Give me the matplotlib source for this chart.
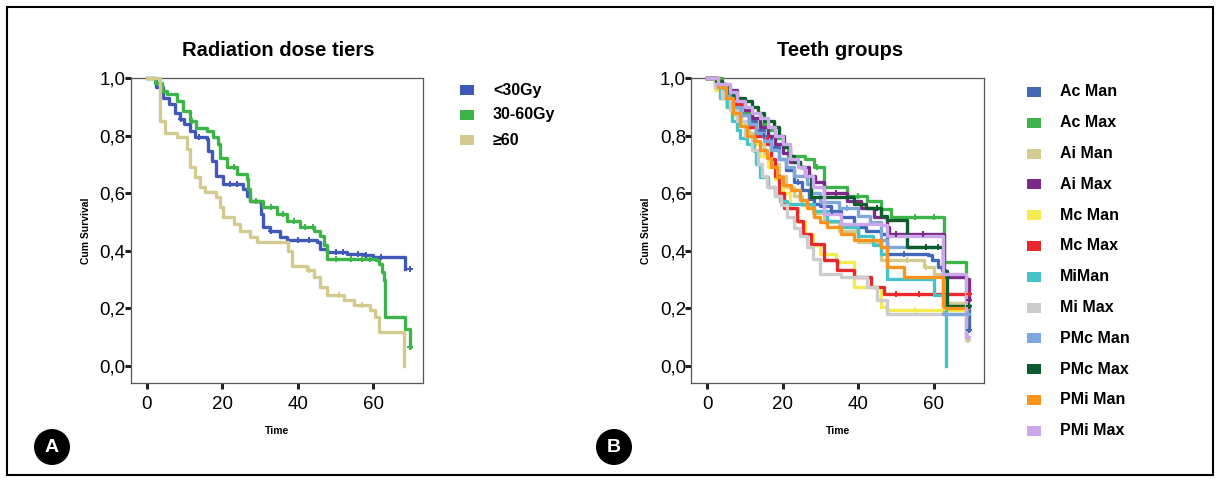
import matplotlib
matplotlib.use("Agg")
import matplotlib.pyplot as plt
import numpy as np
from matplotlib.patches import Rectangle, Ellipse

plt.rcParams['font.family'] = ['Liberation Sans', 'DejaVu Sans']

# ---- data: panel A (radiation dose tiers) ----
dose_labels = ['<30Gy', '30-60Gy', '≥60']
dose_colors = ['#4058b8', '#3cb44a', '#d3ca90']

t_lt30 = [0, 2.6, 4.4, 6, 7.5, 8.8, 10, 11.5, 12.8, 16, 16.3, 17.2, 18.5, 20.3, 25.6, 26.5, 27.4,
          30, 30.4, 30.9, 32.7, 35.3, 37.1, 45, 45.9, 47.7, 53, 57.4, 60, 68.4]
s_lt30 = [1.0, 0.97, 0.93, 0.91, 0.88, 0.857, 0.84, 0.815, 0.796, 0.788, 0.747, 0.713, 0.66, 0.632,
          0.615, 0.59, 0.574, 0.569, 0.528, 0.482, 0.47, 0.447, 0.436, 0.43, 0.407, 0.396, 0.39,
          0.384, 0.378, 0.338]
c_lt30 = [9, 14, 22, 24, 33, 40, 43, 50, 52, 56, 58, 62, 69.6]

t_30_60 = [0, 2.2, 4, 5.3, 8, 9.7, 11.5, 13.2, 15.9, 17.7, 19, 19.4, 21.2, 23.8, 26.5, 26.9, 27.4,
           30.9, 34.4, 37.1, 40.6, 44.2, 45.9, 46.8, 47.7, 60.8, 61.4, 62.3, 62.7, 63.1, 68.4, 69.6]
s_30_60 = [1.0, 0.984, 0.955, 0.943, 0.92, 0.886, 0.851, 0.828, 0.817, 0.794, 0.77, 0.724, 0.69,
           0.667, 0.65, 0.615, 0.574, 0.551, 0.528, 0.505, 0.482, 0.47, 0.453, 0.419, 0.373, 0.367,
           0.355, 0.326, 0.298, 0.171, 0.13, 0.067]
c_30_60 = [12, 23, 29, 33, 36, 39, 42, 44, 50, 54, 57, 59, 69.6]

t_ge60 = [0, 3.5, 4.9, 8, 10.6, 11.5, 12.8, 14.1, 15.5, 18.5, 19.4, 20.3, 23, 24.7, 27.4, 29.1,
          37.5, 38.4, 42.4, 44.2, 45.9, 47.7, 52.1, 54.8, 59.2, 60.5, 61.4, 68.2]
s_ge60 = [1.0, 0.85, 0.81, 0.794, 0.753, 0.69, 0.655, 0.62, 0.603, 0.586, 0.551, 0.517, 0.494,
          0.47, 0.447, 0.43, 0.401, 0.349, 0.332, 0.309, 0.275, 0.246, 0.228, 0.211, 0.194, 0.171,
          0.119, 0.0]
c_ge60 = [43, 51, 57]

dose_times = [t_lt30, t_30_60, t_ge60]
dose_surv = [s_lt30, s_30_60, s_ge60]
dose_cens = [c_lt30, c_30_60, c_ge60]

# ---- data: panel B (teeth groups) ----
teeth_labels = ['Ac Man', 'Ac Max', 'Ai Man', 'Ai Max', 'Mc Man', 'Mc Max',
                'MiMan', 'Mi Max', 'PMc Man', 'PMc Max', 'PMi Man', 'PMi Max']
teeth_colors = ['#4468b8', '#3cb44a', '#d3cb8f', '#7b2a85', '#f5ea4f', '#e8282c',
                '#46c3c8', '#cccccc', '#7ea8dc', '#0d5c2d', '#f7941d', '#cba8ea']

t_ac_man = [0, 3, 5, 7, 9, 11, 13, 15, 17, 19, 21, 23, 25, 27, 28.3, 30, 32.7, 35.3, 38.9, 42,
            45.9, 47.7, 58.3, 59.5, 61, 62, 63, 69.3]
s_ac_man = [1, 0.97, 0.94, 0.91, 0.88, 0.85, 0.82, 0.8, 0.76, 0.72, 0.68, 0.64, 0.61, 0.58, 0.563,
            0.555, 0.54, 0.517, 0.482, 0.47, 0.459, 0.39, 0.384, 0.367, 0.344, 0.332, 0.211, 0.125]
t_ac_max = [0, 4, 6, 8, 10, 12, 14, 16, 18, 20, 21.5, 26, 28.3, 30.9, 37.1, 42.4, 45.9, 48.6, 62.7,
            68.4]
s_ac_max = [1, 0.97, 0.94, 0.91, 0.88, 0.86, 0.84, 0.82, 0.79, 0.76, 0.73, 0.72, 0.69, 0.62, 0.59,
            0.574, 0.546, 0.517, 0.36, 0.21]
t_ai_man = [0, 3, 5, 7, 9, 11, 13, 15, 17, 19, 21, 23, 25, 28, 31, 35, 40, 45.9, 57.4, 60, 62.7,
            68.6]
s_ai_man = [1, 0.96, 0.92, 0.89, 0.85, 0.81, 0.77, 0.73, 0.7, 0.66, 0.62, 0.59, 0.56, 0.53, 0.5,
            0.47, 0.43, 0.367, 0.344, 0.32, 0.22, 0.09]
t_ai_max = [0, 3, 5, 8, 10, 12, 14, 16, 18, 20, 22, 24.7, 27, 28.5, 30.9, 37.1, 40.6, 44.2, 47.7,
            48.1, 62.7, 68.4, 69.3]
s_ai_max = [1, 0.98, 0.96, 0.92, 0.89, 0.86, 0.83, 0.8, 0.77, 0.74, 0.71, 0.69, 0.66, 0.64, 0.6,
            0.574, 0.55, 0.517, 0.482, 0.46, 0.309, 0.303, 0.23]
t_mc_man = [0, 2, 3.5, 5, 6.5, 8, 10, 12, 14, 16, 18, 20, 22, 24, 26, 28, 30, 34, 38.9, 45.9, 47.7]
s_mc_man = [1, 0.96, 0.93, 0.9, 0.87, 0.84, 0.8, 0.77, 0.73, 0.69, 0.65, 0.6, 0.55, 0.5, 0.46,
            0.42, 0.39, 0.36, 0.274, 0.205, 0.194]
t_mc_max = [0, 3, 5, 7, 9, 11, 13, 15.9, 17, 18, 19, 20.3, 23.8, 25.5, 27.4, 30.9, 34.4, 38.9, 43.3,
            46.8]
s_mc_max = [1, 0.98, 0.95, 0.91, 0.87, 0.83, 0.8, 0.77, 0.72, 0.66, 0.6, 0.55, 0.505, 0.46, 0.424,
            0.367, 0.332, 0.309, 0.274, 0.251]
t_mi_man = [0, 2, 3.5, 5.3, 6.5, 8, 8.8, 10.5, 12.4, 13, 14.1, 16, 18, 19.4, 21.2, 28.3, 31.8,
            35.3, 40, 44, 45.9, 47.7, 60, 63.1]
s_mi_man = [1, 0.97, 0.93, 0.9, 0.85, 0.82, 0.79, 0.77, 0.747, 0.7, 0.655, 0.62, 0.59, 0.574,
            0.563, 0.54, 0.505, 0.482, 0.45, 0.42, 0.39, 0.303, 0.246, 0.0]
t_mi_max = [0, 2, 4, 6, 8, 10, 12, 13.5, 14.5, 15.9, 18, 19.5, 21.2, 23, 24.5, 26.5, 28, 30, 35.3,
            42.4, 45, 47.7]
s_mi_max = [1, 0.97, 0.93, 0.89, 0.85, 0.8, 0.75, 0.7, 0.66, 0.62, 0.59, 0.56, 0.517, 0.48, 0.45,
            0.413, 0.37, 0.32, 0.309, 0.274, 0.23, 0.182]
t_pmc_man = [0, 3, 5, 7, 9, 11, 13, 15, 17, 19, 21, 23, 26.5, 27.5, 30, 35, 40, 43, 45.9, 47.7,
             62.5]
s_pmc_man = [1, 0.97, 0.94, 0.9, 0.87, 0.84, 0.81, 0.78, 0.75, 0.72, 0.69, 0.66, 0.632, 0.6, 0.57,
             0.55, 0.52, 0.5, 0.436, 0.413, 0.18]
t_pmc_max = [0, 2.5, 4, 5.5, 7, 10, 12, 13.5, 15, 17.7, 19, 20.3, 22, 23, 24.7, 26, 27.4, 35.3,
             38.9, 42, 45.9, 47.7, 53, 62.3, 63.5]
s_pmc_max = [1, 0.99, 0.97, 0.95, 0.93, 0.92, 0.9, 0.88, 0.85, 0.83, 0.8, 0.76, 0.73, 0.71, 0.69,
             0.66, 0.586, 0.586, 0.563, 0.55, 0.52, 0.506, 0.413, 0.33, 0.21]
t_pmi_man = [0, 3, 5, 7, 8.8, 10.5, 12.4, 14, 15.9, 17, 18.5, 20, 22.1, 24.7, 26.5, 28.3, 30, 31.8,
             35.3, 38.9, 45.9, 47.7, 52.1, 62.5]
s_pmi_man = [1, 0.97, 0.93, 0.88, 0.834, 0.8, 0.78, 0.75, 0.724, 0.69, 0.655, 0.63, 0.61, 0.575,
             0.55, 0.517, 0.5, 0.482, 0.459, 0.436, 0.413, 0.344, 0.309, 0.2]
t_pmi_max = [0, 3, 6, 8, 10, 12, 14, 16, 18, 20, 22, 24, 26, 28, 30.9, 35.3, 45.9, 47.7, 62.5, 68.5]
s_pmi_max = [1, 0.98, 0.95, 0.92, 0.9, 0.88, 0.86, 0.83, 0.8, 0.77, 0.72, 0.69, 0.66, 0.62, 0.528,
             0.494, 0.488, 0.453, 0.32, 0.1]

teeth_times = [t_ac_man, t_ac_max, t_ai_man, t_ai_max, t_mc_man, t_mc_max,
               t_mi_man, t_mi_max, t_pmc_man, t_pmc_max, t_pmi_man, t_pmi_max]
teeth_surv = [s_ac_man, s_ac_max, s_ai_man, s_ai_max, s_mc_man, s_mc_max,
              s_mi_man, s_mi_max, s_pmc_man, s_pmc_max, s_pmi_man, s_pmi_max]
teeth_end = [69.3, 69.3, 69.0, 69.3, 68.5, 69.3, 63.1, 68.5, 69.0, 69.3, 69.0, 69.0]
teeth_cens = [[15, 24, 33, 52, 69.3], [29, 40, 55, 60, 69.3], [53, 58, 69.0], [34, 50, 57, 69.3],
              [55, 62], [50, 56, 69.3], [], [], [37, 69.0], [45, 58, 61, 69.3], [], [69.0]]

ytick_vals = [0.0, 0.2, 0.4, 0.6, 0.8, 1.0]
ytick_labels = ['0,0', '0,2', '0,4', '0,6', '0,8', '1,0']
xtick_vals = [0, 20, 40, 60]

W, H = 1220, 482
fig = plt.figure(figsize=(W / 100, H / 100), dpi=100)


def px_axes(x0, y0, x1, y1):
    return fig.add_axes([x0 / W, 1 - y1 / H, (x1 - x0) / W, (y1 - y0) / H])


def step_at(t, s, x):
    i = np.searchsorted(t, x, side='right') - 1
    return s[max(i, 0)]


def km_panel(ax, times, survs, cens, colors, ends=None):
    for k in range(len(times)):
        t = list(times[k])
        s = list(survs[k])
        if ends is not None and ends[k] > t[-1]:
            t = t + [ends[k]]
            s = s + [s[-1]]
        ax.step(t, s, where='post', color=colors[k], lw=2.4, clip_on=False, zorder=3)
        cx = np.array(cens[k], dtype=float)
        if len(cx):
            cy = [step_at(times[k], survs[k], x) for x in cx]
            ax.plot(cx, cy, '+', color=colors[k], ms=5, mew=1.4, clip_on=False, zorder=4)
    ax.set_xlim(-4.1, 73.1)
    ax.set_ylim(-0.057, 1.0)
    ax.set_yticks(ytick_vals)
    ax.set_yticklabels(ytick_labels)
    ax.set_xticks(xtick_vals)
    for sp in ax.spines.values():
        sp.set_color('#555555')
        sp.set_linewidth(0.9)
    ax.tick_params(axis='y', length=4, width=2.2, labelsize=13.5, pad=0, color='#222222')
    ax.tick_params(axis='x', length=4, width=2.2, labelsize=13.5, pad=6, color='#222222')
    ax.set_xlabel('Time', fontsize=7.5, fontweight='bold', labelpad=9)
    ax.set_ylabel('Cum Survival', fontsize=7.5, fontweight='bold', labelpad=6)


def legend_block(x_box, x_text, y_first, dy, labels, colors):
    for i, (lab, col) in enumerate(zip(labels, colors)):
        y = y_first + i * dy
        fig.add_artist(Rectangle((x_box / W, 1 - (y + 5) / H), 14 / W, 10 / H,
                                 transform=fig.transFigure, color=col, lw=0))
        fig.text(x_text / W, 1 - y / H, lab, fontsize=11.5, fontweight='bold',
                 va='center', ha='left')


axA = px_axes(131, 78, 423, 382.5)
km_panel(axA, dose_times, dose_surv, dose_cens, dose_colors)
fig.text(278 / W, 1 - 50 / H, 'Radiation dose tiers', fontsize=14.5, fontweight='bold',
         ha='center', va='center')
legend_block(460, 493, 90, 25, dose_labels, dose_colors)

axB = px_axes(691.5, 78, 983.5, 382.5)
km_panel(axB, teeth_times, teeth_surv, teeth_cens, teeth_colors, ends=teeth_end)
fig.text(840 / W, 1 - 50 / H, 'Teeth groups', fontsize=14.5, fontweight='bold',
         ha='center', va='center')
legend_block(1027, 1060, 92, 30.8, teeth_labels, teeth_colors)

# panel badges
for lab, cx in [('A', 52), ('B', 614)]:
    fig.add_artist(Ellipse((cx / W, 1 - 447 / H), 36 / W, 36 / H, transform=fig.transFigure,
                           color='black', lw=0))
    fig.text(cx / W, 1 - 447 / H, lab, color='white', fontsize=14, fontweight='bold',
             ha='center', va='center')

# outer frame
fig.add_artist(Rectangle((7 / W, 1 - 475 / H), 1206 / W, 468 / H, transform=fig.transFigure,
                         fill=False, ec='black', lw=1.5))

fig.savefig('out.png', dpi=100)
